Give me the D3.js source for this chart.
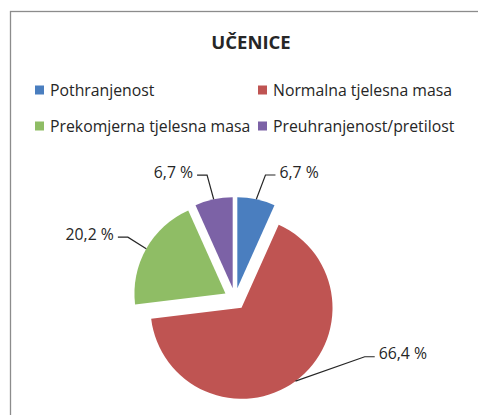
<!DOCTYPE html>
<html>
<head>
<meta charset="utf-8">
<script src="https://cdn.jsdelivr.net/npm/d3@7"></script>
<style>
    body { margin: 0; background: #fff; }
    svg { display: block; font-family: "Open Sans", sans-serif; }
</style>
</head>
<body>
<svg id="pie_svg" width="478" height="415"></svg>
<script>
// chart data
const titleText = "UČENICE";
const categories = ["Pothranjenost", "Normalna tjelesna masa", "Prekomjerna tjelesna masa", "Preuhranjenost/pretilost"];
const values = [6.7, 66.4, 20.2, 6.7];
const valueLabels = ["6,7 %", "66,4 %", "20,2 %", "6,7 %"];
const sliceColors = ["#4a7ebf", "#bf5452", "#8fbd65", "#7c62a6"];

function drawPie() {
    const svg = d3.select("#pie_svg");

    // chart frame (runs off the right and bottom edge)
    svg.append("rect")
        .attr("x", 10.5)
        .attr("y", 11.5)
        .attr("width", 500)
        .attr("height", 500)
        .attr("fill", "white")
        .attr("stroke", "#8c8c8c")
        .attr("stroke-width", 1.3);

    svg.append("text")
        .attr("x", 251)
        .attr("y", 48.5)
        .attr("text-anchor", "middle")
        .style("font-size", "18.5px")
        .style("font-weight", "bold")
        .attr("fill", "#262626")
        .text(titleText);

    // legend, 2 columns
    const legend = svg.append("g").attr("class", "legend");
    const legendItems = legend.selectAll(".legend-item")
        .data(categories)
        .enter()
        .append("g")
        .attr("class", "legend-item")
        .attr("transform", (d, i) => "translate(" + (35 + (i % 2) * 223) + "," + (90 + Math.floor(i / 2) * 36) + ")");

    legendItems.append("rect")
        .attr("x", 0)
        .attr("y", -4.5)
        .attr("width", 9)
        .attr("height", 9)
        .attr("fill", (d, i) => sliceColors[i]);

    legendItems.append("text")
        .attr("x", 15)
        .attr("y", 0)
        .attr("dy", ".35em")
        .style("font-size", "15.8px")
        .attr("fill", "#262626")
        .text(d => d);

    // pie
    const cx = 235, cy = 299, radius = 91, explode = 11;
    const pie = d3.pie().sort(null).value(d => d);
    const arcs = pie(values);
    const arc = d3.arc().innerRadius(0).outerRadius(radius);

    const mid = d => (d.startAngle + d.endAngle) / 2;
    const offset = (d, r) => [Math.sin(mid(d)) * r, -Math.cos(mid(d)) * r];

    const pieG = svg.append("g").attr("transform", "translate(" + cx + "," + cy + ")");

    pieG.selectAll(".slice")
        .data(arcs)
        .enter()
        .append("path")
        .attr("class", "slice")
        .attr("transform", d => "translate(" + offset(d, explode) + ")")
        .attr("fill", (d, i) => sliceColors[i])
        .attr("d", arc);

    // label elbows: angle (deg, clockwise from top) and distance from centre
    const elbows = [[13.8, 127.7], [114, 142], [300, 123.7], [-12.7, 127]];

    const labels = pieG.selectAll(".data-label")
        .data(arcs)
        .enter()
        .append("g")
        .attr("class", "data-label");

    labels.append("polyline")
        .attr("fill", "none")
        .attr("stroke", "#262626")
        .attr("stroke-width", 1.2)
        .attr("points", (d, i) => {
            const a = elbows[i][0] * Math.PI / 180;
            const start = offset(d, radius + explode);
            const ex = Math.sin(a) * elbows[i][1];
            const ey = -Math.cos(a) * elbows[i][1];
            const dir = ex >= 0 ? 1 : -1;
            return [start, [ex, ey], [ex + dir * 10, ey]].map(p => p.join(",")).join(" ");
        });

    labels.append("text")
        .attr("x", (d, i) => {
            const a = elbows[i][0] * Math.PI / 180;
            const ex = Math.sin(a) * elbows[i][1];
            return ex >= 0 ? ex + 14 : ex - 14;
        })
        .attr("y", (d, i) => {
            const a = elbows[i][0] * Math.PI / 180;
            return -Math.cos(a) * elbows[i][1] - 3;
        })
        .attr("dy", ".35em")
        .attr("text-anchor", (d, i) => Math.sin(elbows[i][0] * Math.PI / 180) >= 0 ? "start" : "end")
        .style("font-size", "15.8px")
        .attr("fill", "#262626")
        .text((d, i) => valueLabels[i]);
}

drawPie();
</script>
</body>
</html>
